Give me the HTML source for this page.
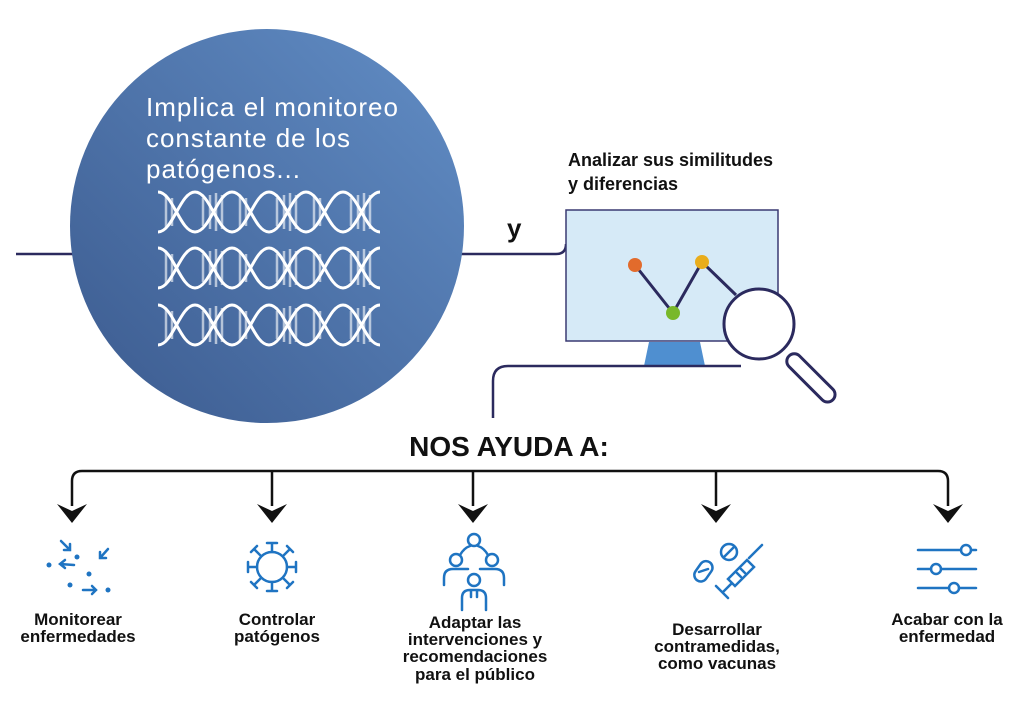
<!DOCTYPE html>
<html><head><meta charset="utf-8"><style>
html,body{margin:0;padding:0;background:#fff;width:1024px;height:709px;overflow:hidden}
svg{display:block}
text{font-family:"Liberation Sans",sans-serif}
.lb{font-weight:bold;font-size:17px;fill:#111;text-anchor:middle}
</style></head><body>
<svg width="1024" height="709" viewBox="0 0 1024 709" xmlns="http://www.w3.org/2000/svg">
<defs>
<linearGradient id="g" x1="1" y1="0" x2="0" y2="1">
<stop offset="0" stop-color="#628ec6"/><stop offset="1" stop-color="#3b5a8e"/>
</linearGradient>
<g id="dna">
<path d="M0,-20 C15,-20 22,20 37,20 S59,-20 74,-20 S96,20 111,20 S133,-20 148,-20 S170,20 185,20 S207,-20 222,-20" fill="none" stroke="#fff" stroke-width="3"/>
<path d="M0,20 C15,20 22,-20 37,-20 S59,20 74,20 S96,-20 111,-20 S133,20 148,20 S170,-20 185,-20 S207,20 222,20" fill="none" stroke="#fff" stroke-width="3"/>
<g stroke="#fff" stroke-opacity="0.6" stroke-width="2.5">
<path d="M8,-17V17M14,-14V14M45,-14V14M52,-17V17M58,-19V19M64,-17V17M82,-17V17M88,-14V14M119,-14V14M126,-17V17M132,-19V19M138,-17V17M156,-17V17M162,-14V14M193,-14V14M200,-17V17M206,-19V19M212,-17V17"/>
</g>
</g>
</defs>
<line x1="16" y1="254" x2="80" y2="254" stroke="#2b2a5e" stroke-width="2.5"/>
<path d="M455,254 H556 Q566,254 566,244" fill="none" stroke="#2b2a5e" stroke-width="2.5"/>
<circle cx="267" cy="226" r="197" fill="url(#g)"/>
<text x="146" y="116" font-size="26" fill="#fff" textLength="252" lengthAdjust="spacing">Implica el monitoreo</text>
<text x="146" y="147" font-size="26" fill="#fff" textLength="204" lengthAdjust="spacing">constante de los</text>
<text x="146" y="178" font-size="26" fill="#fff" textLength="154" lengthAdjust="spacing">patógenos...</text>
<use href="#dna" x="158" y="212"/>
<use href="#dna" x="158" y="268"/>
<use href="#dna" x="158" y="325"/>
<text x="507" y="237" font-size="26" font-weight="bold" fill="#111">y</text>
<text x="568" y="166" font-size="18" font-weight="bold" fill="#111">Analizar sus similitudes</text>
<text x="568" y="190" font-size="18" font-weight="bold" fill="#111">y diferencias</text>
<rect x="566" y="210" width="212" height="131" fill="#d6eaf7" stroke="#3a3a72" stroke-width="1.5"/>
<path d="M649,342 H700 L705,366 H644 Z" fill="#4f8fd0"/>
<path d="M741,366 H508 Q493,366 493,381 V418" fill="none" stroke="#2b2a5e" stroke-width="2.5"/>
<polyline points="635,265 673,313 702,262 736,295" fill="none" stroke="#2b2a5e" stroke-width="3"/>
<circle cx="635" cy="265" r="7" fill="#e26b2c"/>
<circle cx="673" cy="313" r="7" fill="#78b82a"/>
<circle cx="702" cy="262" r="7" fill="#e9ad1c"/>
<circle cx="759" cy="324" r="35" fill="#fff" stroke="#2b2a5e" stroke-width="3"/>
<rect x="0" y="-7.5" width="62" height="15" rx="7.5" transform="translate(789,356) rotate(45)" fill="#fff" stroke="#2b2a5e" stroke-width="3"/>
<text x="509" y="456" font-size="28" font-weight="bold" fill="#111" text-anchor="middle">NOS AYUDA A:</text>
<path d="M72,506 V481 Q72,471 82,471 H938 Q948,471 948,481 V506" fill="none" stroke="#111" stroke-width="2.5"/>
<g stroke="#111" stroke-width="2.5"><line x1="272" y1="471" x2="272" y2="506"/><line x1="473" y1="471" x2="473" y2="506"/><line x1="716" y1="471" x2="716" y2="506"/></g>
<g fill="#111">
<path d="M57,504 L72,523 L87,504 L72,511 Z"/><path d="M257,504 L272,523 L287,504 L272,511 Z"/><path d="M458,504 L473,523 L488,504 L473,511 Z"/><path d="M701,504 L716,523 L731,504 L716,511 Z"/><path d="M933,504 L948,523 L963,504 L948,511 Z"/>
</g>
<g stroke="#1f74c2" stroke-width="2.5" fill="none" stroke-linecap="round">
<path d="M61,541 L70,550 M70,544 V550 H64"/>
<path d="M108,549 L100,558 M100,552 V558 H106"/>
<path d="M74,565 L60,564 M65,560 L60,564 L65,568"/>
<path d="M83,590 H96 M92,586 L96,590 L92,594"/>
<circle cx="272" cy="567" r="15"/>
<path d="M272,552 V543 M267,543 H277 M272,582 V591 M267,591 H277 M257,567 H248 M248,562 V572 M287,567 H296 M296,562 V572"/>
<path d="M261,556 L254,549 M251,552 L257,546 M283,556 L290,549 M287,546 L293,552 M261,578 L254,585 M251,582 L257,588 M283,578 L290,585 M287,588 L293,582"/>
<circle cx="474" cy="540" r="6"/><circle cx="456" cy="560" r="6"/><circle cx="492" cy="560" r="6"/><circle cx="474" cy="580" r="6"/>
<path d="M460,555 Q464,548 470,546 M488,555 Q484,548 478,546"/>
<path d="M444,585 V578 Q444,569 453,569 H468 M504,585 V578 Q504,569 495,569 H480"/>
<path d="M462,610 V598 Q462,590 470,590 H478 Q486,590 486,598 V610 M471,590 V597 M477,590 V597"/>
<rect x="697" y="560" width="13" height="22" rx="6.5" transform="rotate(35 703 571)"/>
<path d="M699,572 L708,569"/>
<circle cx="729" cy="552" r="8"/><path d="M724,557 L734,547"/>
<path d="M728,579 L747,560 L754,567 L735,586 Z M749,558 L762,545 M732,583 L723,592 M716,586 L728,598 M737,573 L741,577 M741,569 L745,573"/>
<path d="M918,550 H961 M971,550 H976 M918,569 H931 M941,569 H976 M918,588 H949 M959,588 H976"/>
<circle cx="966" cy="550" r="5"/><circle cx="936" cy="569" r="5"/><circle cx="954" cy="588" r="5"/>
</g>
<g fill="#1f74c2">
<circle cx="49" cy="565" r="2.5"/><circle cx="77" cy="557" r="2.5"/><circle cx="89" cy="574" r="2.5"/><circle cx="70" cy="585" r="2.5"/><circle cx="108" cy="590" r="2.5"/>
</g>
<text class="lb" x="78" y="625">Monitorear</text>
<text class="lb" x="78" y="642">enfermedades</text>
<text class="lb" x="277" y="625">Controlar</text>
<text class="lb" x="277" y="642">patógenos</text>
<text class="lb" x="475" y="628">Adaptar las</text>
<text class="lb" x="475" y="645">intervenciones y</text>
<text class="lb" x="475" y="662">recomendaciones</text>
<text class="lb" x="475" y="680">para el público</text>
<text class="lb" x="717" y="635">Desarrollar</text>
<text class="lb" x="717" y="652">contramedidas,</text>
<text class="lb" x="717" y="669">como vacunas</text>
<text class="lb" x="947" y="625">Acabar con la</text>
<text class="lb" x="947" y="642">enfermedad</text>
</svg>
</body></html>
